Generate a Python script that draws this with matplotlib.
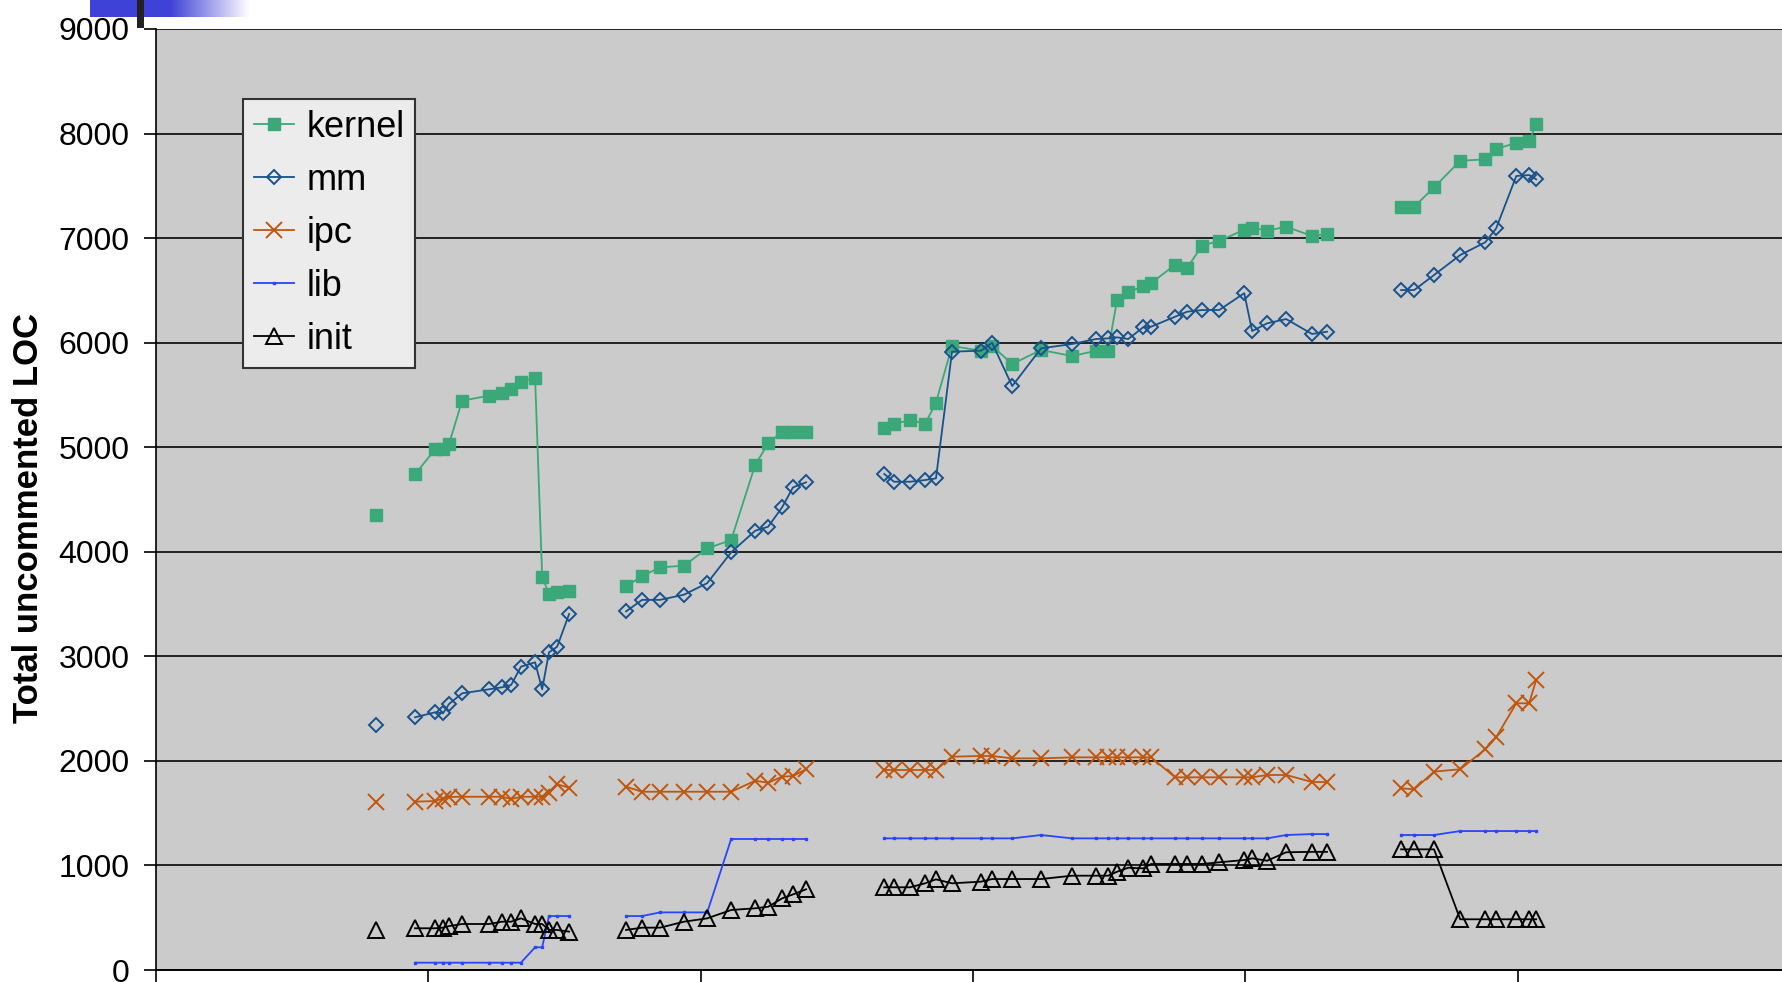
import matplotlib.pyplot as plt
import numpy as np

plt.rcParams['font.family'] = ['Liberation Sans', 'DejaVu Sans']

# release dates in years from the left edge; None breaks the line between runs
dates = [0.808, None,
         0.951, 1.025, 1.054, 1.076, 1.124, 1.223, 1.271, 1.304, 1.340, 1.392,
         1.418, 1.443, 1.473, 1.517, None,
         1.726, 1.785, 1.851, 1.939, 2.024, 2.112, 2.200, 2.248, 2.299, 2.339,
         2.387, None,
         2.674, 2.710, 2.769, 2.824, 2.864, 2.923, 3.030, 3.070, 3.144, 3.250,
         3.364, 3.452, 3.496, 3.529, 3.570, 3.625, 3.654, 3.742, 3.786, 3.841,
         3.904, 3.996, 4.025, 4.080, 4.150, 4.245, 4.300, None,
         4.572, 4.620, 4.693, 4.789, 4.881, 4.921, 4.995, 5.042, 5.068]

kernel = [4352, None,
          4741, 4980, 4980, 5031, 5445, 5493, 5515, 5557, 5627, 5665,
          3762, 3596, 3618, 3625, None,
          3668, 3768, 3851, 3867, 4033, 4112, 4830, 5037, 5148, 5148,
          5148, None,
          5187, 5222, 5260, 5222, 5426, 5968, 5923, 5968, 5796, 5930,
          5872, 5923, 5923, 6408, 6484, 6538, 6570, 6744, 6712, 6929,
          6972, 7081, 7100, 7071, 7109, 7020, 7039, None,
          7300, 7300, 7485, 7740, 7753, 7852, 7912, 7929, 8091]

mm = [2343, None,
      2417, 2465, 2455, 2544, 2646, 2685, 2704, 2726, 2901, 2943,
      2685, 3038, 3092, 3405, None,
      3430, 3540, 3540, 3590, 3700, 3995, 4201, 4240, 4425, 4616,
      4664, None,
      4744, 4670, 4670, 4686, 4702, 5914, 5923, 5999, 5585, 5946,
      5987, 6035, 6041, 6051, 6035, 6147, 6153, 6248, 6296, 6312,
      6312, 6473, 6111, 6185, 6226, 6083, 6105, None,
      6503, 6503, 6647, 6838, 6960, 7093, 7594, 7603, 7562]

ipc = [1610, None,
       1610, 1616, 1640, 1655, 1657, 1657, 1657, 1635, 1657, 1657,
       1657, 1690, 1776, 1744, None,
       1753, 1705, 1705, 1705, 1705, 1705, 1810, 1791, 1849, 1855,
       1920, None,
       1913, 1913, 1913, 1913, 1913, 2040, 2047, 2047, 2024, 2024,
       2034, 2034, 2034, 2034, 2034, 2034, 2034, 1843, 1843, 1843,
       1843, 1843, 1843, 1865, 1865, 1798, 1798, None,
       1738, 1728, 1897, 1920, 2111, 2226, 2551, 2551, 2774]

lib = [None, None,
       70, 70, 70, 70, 70, 70, 70, 70, 70, 217,
       217, 516, 516, 516, None,
       516, 516, 551, 551, 551, 1253, 1253, 1253, 1253, 1253,
       1253, None,
       1259, 1259, 1259, 1259, 1259, 1259, 1259, 1259, 1259, 1291,
       1259, 1259, 1259, 1259, 1259, 1259, 1259, 1259, 1259, 1259,
       1259, 1259, 1259, 1259, 1291, 1300, 1300, None,
       1291, 1291, 1291, 1329, 1329, 1329, 1329, 1329, 1329]

init = [383, None,
        399, 399, 405, 420, 440, 440, 462, 462, 494, 440,
        440, 383, 383, 367, None,
        383, 405, 405, 462, 494, 574, 590, 605, 685, 723,
        772, None,
        791, 791, 791, 829, 867, 829, 845, 870, 870, 870,
        902, 902, 902, 940, 978, 972, 1014, 1014, 1014, 1014,
        1030, 1052, 1068, 1045, 1126, 1130, 1130, None,
        1154, 1154, 1154, 485, 485, 485, 485, 485, 485]

x = np.array(dates, dtype=float)

fig = plt.figure(figsize=(17.82, 9.82), dpi=100)
ax = fig.add_axes([156 / 1782, 12 / 982, 1634 / 1782, 941 / 982])
ax.set_facecolor('#cbcbcb')

ax.plot(x, np.array(kernel, dtype=float), color='#3aa878', lw=1.3,
        marker='s', ms=8, mec='#3aa878', label='kernel', zorder=3)
ax.plot(x, np.array(mm, dtype=float), color='#18528c', lw=1.3,
        marker='D', ms=7.5, mfc='none', mec='#18528c', mew=1.4, label='mm', zorder=4)
ax.plot(x, np.array(ipc, dtype=float), color='#c0560e', lw=1.3,
        marker='x', ms=11, mew=1.4, label='ipc', zorder=3)
ax.plot(x, np.array(lib, dtype=float), color='#2646ff', lw=1.3,
        marker='s', ms=1.5, label='lib', zorder=3)
ax.plot(x, np.array(init, dtype=float), color='black', lw=1.3,
        marker='^', ms=11, mfc='none', mew=1.4, label='init', zorder=3)

ax.set_xlim(0, 6)
ax.set_ylim(0, 9000)
ax.set_yticks(range(0, 9001, 1000))
ax.set_xticks(range(0, 7))
ax.set_xticklabels([])
ax.grid(axis='y', color='#222222', lw=1.4)
ax.set_axisbelow(True)
ax.tick_params(axis='y', labelsize=23, length=9, width=1.2, pad=10)
ax.tick_params(axis='x', length=12, width=1.2)
for side in ('top', 'right'):
    ax.spines[side].set_visible(False)
ax.spines['left'].set_linewidth(1.2)
ax.spines['bottom'].set_linewidth(1.4)

ax.set_ylabel('Total uncommented LOC', fontsize=25, fontweight='bold', labelpad=10)
ax.yaxis.label.set_y(0.48)

leg = ax.legend(loc='upper left', bbox_to_anchor=(243 / 1782, 1 - 99 / 982),
                bbox_transform=fig.transFigure, borderaxespad=0,
                fontsize=26, handlelength=1.1, handletextpad=0.35,
                labelspacing=0.5, borderpad=0.3, fancybox=False,
                framealpha=1, facecolor='#ececec', edgecolor='#333333')
leg.get_frame().set_linewidth(1.5)

# title bar decoration across the top of the slide
bar = fig.add_axes([90 / 1782, 1 - 17 / 982, 160 / 1782, 17 / 982])
grad = np.concatenate([np.zeros(80), np.linspace(0, 1, 80)])
blue = np.array([0.25, 0.26, 0.84])
img = blue[None, :] * (1 - grad[:, None]) + grad[:, None]
bar.imshow(img[None, :, :], aspect='auto', extent=(0, 1, 0, 1))
bar.axis('off')
stub = fig.add_axes([137 / 1782, 1 - 28 / 982, 7 / 1782, 28 / 982])
stub.set_facecolor('#222222')
stub.set_xticks([])
stub.set_yticks([])
for s in stub.spines.values():
    s.set_visible(False)

fig.savefig('out.png', dpi=100)
